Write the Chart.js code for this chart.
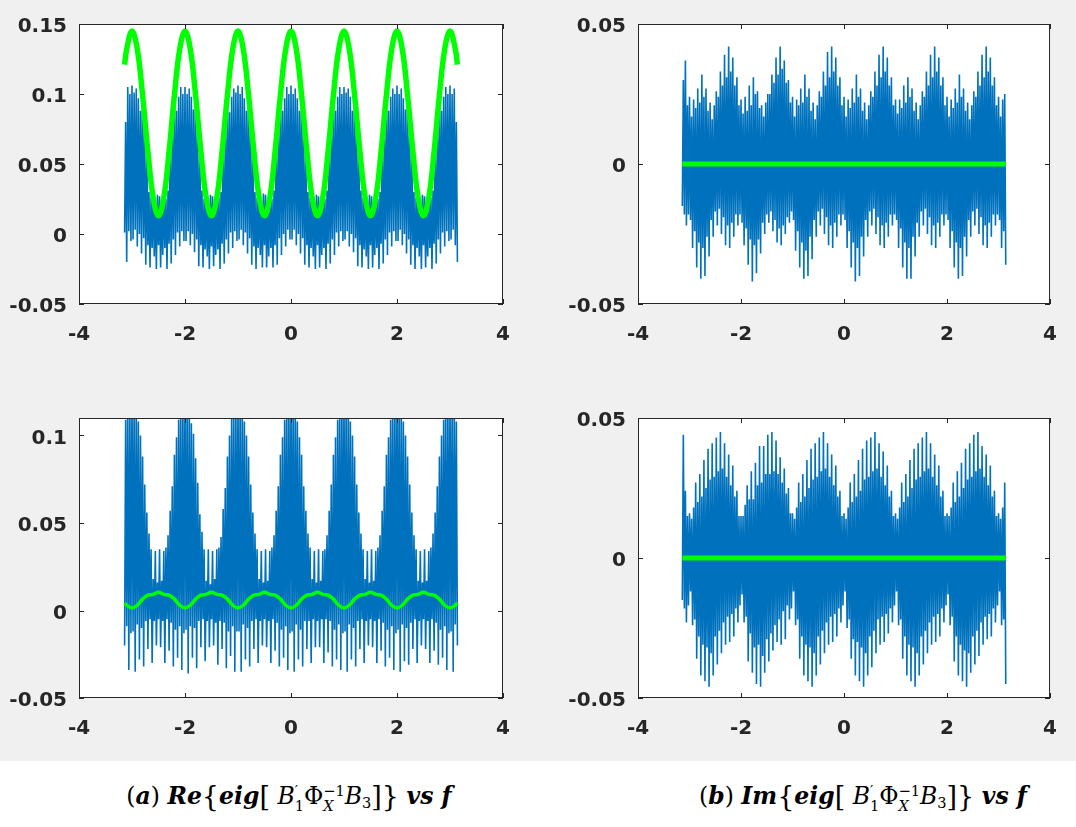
<!DOCTYPE html>
<html>
<head>
<meta charset="utf-8">
<script src="https://cdn.jsdelivr.net/npm/chart.js@4.4.1/dist/chart.umd.min.js"></script>
<style>
  html, body { margin: 0; padding: 0; background: #fff; }
  body { width: 1076px; height: 827px; position: relative; overflow: hidden; }
  #fig { position: absolute; left: 0; top: 0; width: 1076px; height: 761px; background: #f0f0f0; }
  canvas { position: absolute; }
  .cap {
    position: absolute; top: 780px; line-height: 32px; white-space: nowrap;
    font-family: "DejaVu Serif", serif; font-size: 23.5px; color: #000;
    transform: translateX(-50%);
  }
  .cap b { font-weight: bold; font-style: italic; }
  .cap i { font-style: italic; font-weight: normal; }
  .cap .br { font-size: 1.15em; vertical-align: -0.06em; font-weight: normal; }
  .cap .ss { display: inline-block; vertical-align: -0.45em; font-size: 0.62em; line-height: 1.0; text-align: left; }
  .cap .ss span { display: block; }
  .cap sub { font-size: 0.62em; vertical-align: -0.3em; line-height: 0; }
</style>
</head>
<body>
<div id="fig"></div>
<canvas id="reTop" width="540" height="370" style="left:0;top:0"></canvas>
<canvas id="imTop" width="516" height="370" style="left:560px;top:0"></canvas>
<canvas id="reBot" width="540" height="370" style="left:0;top:394px"></canvas>
<canvas id="imBot" width="516" height="370" style="left:560px;top:394px"></canvas>

<div class="cap" style="left:289px">(<b>a</b>) <b>Re</b><span class="br">{</span><b>eig</b><span class="br">[</span> <i>B</i><span class="ss"><span>′</span><span>1</span></span>Φ<span class="ss"><span>−1</span><span><i>X</i></span></span><i>B</i><sub>3</sub><span class="br">]</span><span class="br">}</span> <b>vs f</b></div>
<div class="cap" style="left:863px">(<b>b</b>) <b>Im</b><span class="br">{</span><b>eig</b><span class="br">[</span> <i>B</i><span class="ss"><span>′</span><span>1</span></span>Φ<span class="ss"><span>−1</span><span><i>X</i></span></span><i>B</i><sub>3</sub><span class="br">]</span><span class="br">}</span> <b>vs f</b></div>

<script>
// frequency grid of the blue traces (-pi .. pi, step 0.02)
const freq = [
  -3.14,-3.12,-3.10,-3.08,-3.06,-3.04,-3.02,-3.00,-2.98,-2.96,
  -2.94,-2.92,-2.90,-2.88,-2.86,-2.84,-2.82,-2.80,-2.78,-2.76,
  -2.74,-2.72,-2.70,-2.68,-2.66,-2.64,-2.62,-2.60,-2.58,-2.56,
  -2.54,-2.52,-2.50,-2.48,-2.46,-2.44,-2.42,-2.40,-2.38,-2.36,
  -2.34,-2.32,-2.30,-2.28,-2.26,-2.24,-2.22,-2.20,-2.18,-2.16,
  -2.14,-2.12,-2.10,-2.08,-2.06,-2.04,-2.02,-2.00,-1.98,-1.96,
  -1.94,-1.92,-1.90,-1.88,-1.86,-1.84,-1.82,-1.80,-1.78,-1.76,
  -1.74,-1.72,-1.70,-1.68,-1.66,-1.64,-1.62,-1.60,-1.58,-1.56,
  -1.54,-1.52,-1.50,-1.48,-1.46,-1.44,-1.42,-1.40,-1.38,-1.36,
  -1.34,-1.32,-1.30,-1.28,-1.26,-1.24,-1.22,-1.20,-1.18,-1.16,
  -1.14,-1.12,-1.10,-1.08,-1.06,-1.04,-1.02,-1.00,-0.98,-0.96,
  -0.94,-0.92,-0.90,-0.88,-0.86,-0.84,-0.82,-0.80,-0.78,-0.76,
  -0.74,-0.72,-0.70,-0.68,-0.66,-0.64,-0.62,-0.60,-0.58,-0.56,
  -0.54,-0.52,-0.50,-0.48,-0.46,-0.44,-0.42,-0.40,-0.38,-0.36,
  -0.34,-0.32,-0.30,-0.28,-0.26,-0.24,-0.22,-0.20,-0.18,-0.16,
  -0.14,-0.12,-0.10,-0.08,-0.06,-0.04,-0.02,0.00,0.02,0.04,
  0.06,0.08,0.10,0.12,0.14,0.16,0.18,0.20,0.22,0.24,
  0.26,0.28,0.30,0.32,0.34,0.36,0.38,0.40,0.42,0.44,
  0.46,0.48,0.50,0.52,0.54,0.56,0.58,0.60,0.62,0.64,
  0.66,0.68,0.70,0.72,0.74,0.76,0.78,0.80,0.82,0.84,
  0.86,0.88,0.90,0.92,0.94,0.96,0.98,1.00,1.02,1.04,
  1.06,1.08,1.10,1.12,1.14,1.16,1.18,1.20,1.22,1.24,
  1.26,1.28,1.30,1.32,1.34,1.36,1.38,1.40,1.42,1.44,
  1.46,1.48,1.50,1.52,1.54,1.56,1.58,1.60,1.62,1.64,
  1.66,1.68,1.70,1.72,1.74,1.76,1.78,1.80,1.82,1.84,
  1.86,1.88,1.90,1.92,1.94,1.96,1.98,2.00,2.02,2.04,
  2.06,2.08,2.10,2.12,2.14,2.16,2.18,2.20,2.22,2.24,
  2.26,2.28,2.30,2.32,2.34,2.36,2.38,2.40,2.42,2.44,
  2.46,2.48,2.50,2.52,2.54,2.56,2.58,2.60,2.62,2.64,
  2.66,2.68,2.70,2.72,2.74,2.76,2.78,2.80,2.82,2.84,
  2.86,2.88,2.90,2.92,2.94,2.96,2.98,3.00,3.02,3.04,
  3.06,3.08,3.10,3.12,3.14
];

// Re{eig} top panel, blue trace (one block per unit of f, starting at f = -3)
const reTopBlue = [
  0.001,0.080,-0.020,0.105,0.002,0.100,-0.005,
  0.106,-0.004,0.101,0.003,0.104,-0.009,0.097,0.000,0.088,-0.014,
  0.100,-0.003,0.071,-0.022,0.057,-0.008,0.030,-0.024,0.026,-0.010,
  0.030,-0.016,0.022,-0.025,0.028,-0.008,0.027,-0.024,0.023,-0.015,
  0.030,-0.010,0.025,-0.025,0.031,-0.007,0.058,-0.021,0.069,-0.004,
  0.099,-0.015,0.088,0.001,0.098,-0.009,0.105,0.002,0.100,-0.005,
  0.105,-0.005,0.100,0.002,0.104,-0.008,0.098,0.000,0.089,-0.013,
  0.100,-0.004,0.069,-0.023,0.056,-0.008,0.031,-0.024,0.025,-0.011,
  0.029,-0.016,0.023,-0.025,0.028,-0.009,0.027,-0.023,0.022,-0.015,
  0.030,-0.011,0.026,-0.025,0.030,-0.007,0.059,-0.021,0.068,-0.004,
  0.100,-0.014,0.087,0.001,0.098,-0.010,0.104,0.002,0.101,-0.005,
  0.106,-0.004,0.100,0.003,0.105,-0.008,0.097,0.001,0.088,-0.014,
  0.099,-0.003,0.070,-0.022,0.057,-0.009,0.030,-0.025,0.026,-0.010,
  0.030,-0.015,0.022,-0.024,0.029,-0.008,0.028,-0.024,0.023,-0.016,
  0.031,-0.010,0.025,-0.024,0.031,-0.008,0.058,-0.022,0.069,-0.003,
  0.099,-0.015,0.088,0.000,0.097,-0.009,0.105,0.003,0.100,-0.004,
  0.106,-0.004,0.100,0.003,0.104,-0.008,0.097,0.000,0.088,-0.014,
  0.100,-0.003,0.070,-0.022,0.057,-0.008,0.030,-0.024,0.026,-0.010,
  0.030,-0.016,0.022,-0.025,0.028,-0.008,0.027,-0.024,0.023,-0.015,
  0.030,-0.010,0.025,-0.025,0.031,-0.007,0.058,-0.021,0.069,-0.004,
  0.099,-0.015,0.088,0.001,0.098,-0.009,0.105,0.002,0.100,-0.005,
  0.105,-0.004,0.101,0.002,0.104,-0.009,0.098,0.000,0.088,-0.013,
  0.100,-0.003,0.071,-0.023,0.056,-0.008,0.031,-0.024,0.026,-0.011,
  0.030,-0.016,0.023,-0.025,0.028,-0.008,0.027,-0.024,0.022,-0.015,
  0.030,-0.010,0.025,-0.025,0.030,-0.007,0.058,-0.021,0.068,-0.004,
  0.100,-0.015,0.088,0.001,0.098,-0.009,0.104,0.002,0.100,-0.005,
  0.106,-0.005,0.100,0.003,0.104,-0.008,0.097,0.000,0.089,-0.014,
  0.100,-0.004,0.070,-0.022,0.057,-0.008,0.030,-0.025,0.026,-0.010,
  0.029,-0.016,0.022,-0.025,0.028,-0.008,0.027,-0.024,0.023,-0.016,
  0.030,-0.010,0.026,-0.025,0.031,-0.007,0.059,-0.021,0.069,-0.004,
  0.099,-0.014,0.088,0.001,0.098,-0.009,0.105,0.002,0.100,-0.005,
  0.106,-0.004,0.100,0.003,0.104,-0.008,0.080,-0.020
];

// Im{eig} top panel, blue trace
const imTopBlue = [
  -0.015,0.030,-0.018,0.037,-0.022,0.021,-0.018,
  0.024,-0.020,0.017,-0.030,0.023,-0.024,0.020,-0.037,0.027,-0.028,
  0.022,-0.041,0.032,-0.030,0.024,-0.040,0.027,-0.026,0.019,-0.033,
  0.022,-0.020,0.016,-0.026,0.021,-0.017,0.026,-0.022,0.024,-0.016,
  0.033,-0.025,0.028,-0.019,0.039,-0.029,0.031,-0.022,0.042,-0.030,
  0.033,-0.021,0.038,-0.026,0.028,-0.018,0.031,-0.022,0.021,-0.018,
  0.023,-0.021,0.018,-0.029,0.024,-0.023,0.019,-0.036,0.028,-0.027,
  0.021,-0.042,0.031,-0.029,0.025,-0.039,0.026,-0.027,0.020,-0.032,
  0.021,-0.021,0.017,-0.025,0.022,-0.018,0.025,-0.021,0.025,-0.017,
  0.032,-0.024,0.029,-0.020,0.038,-0.028,0.032,-0.023,0.042,-0.029,
  0.034,-0.022,0.037,-0.025,0.029,-0.019,0.030,-0.021,0.022,-0.017,
  0.024,-0.020,0.017,-0.031,0.023,-0.024,0.021,-0.037,0.027,-0.028,
  0.022,-0.041,0.032,-0.031,0.024,-0.040,0.027,-0.026,0.019,-0.034,
  0.022,-0.020,0.016,-0.026,0.021,-0.017,0.026,-0.022,0.024,-0.016,
  0.033,-0.025,0.028,-0.019,0.040,-0.029,0.031,-0.022,0.042,-0.030,
  0.033,-0.021,0.038,-0.026,0.028,-0.018,0.031,-0.022,0.021,-0.018,
  0.024,-0.020,0.017,-0.030,0.023,-0.024,0.020,-0.037,0.027,-0.028,
  0.022,-0.042,0.032,-0.030,0.024,-0.040,0.027,-0.026,0.019,-0.033,
  0.022,-0.020,0.016,-0.026,0.021,-0.017,0.026,-0.022,0.024,-0.016,
  0.033,-0.025,0.028,-0.019,0.039,-0.029,0.031,-0.022,0.042,-0.030,
  0.033,-0.021,0.038,-0.026,0.028,-0.018,0.031,-0.022,0.021,-0.018,
  0.023,-0.020,0.018,-0.030,0.023,-0.023,0.020,-0.037,0.028,-0.028,
  0.022,-0.041,0.031,-0.030,0.024,-0.041,0.027,-0.026,0.019,-0.033,
  0.022,-0.021,0.016,-0.026,0.021,-0.017,0.026,-0.022,0.024,-0.016,
  0.033,-0.025,0.028,-0.019,0.039,-0.029,0.031,-0.022,0.042,-0.030,
  0.033,-0.021,0.038,-0.026,0.028,-0.018,0.031,-0.022,0.021,-0.018,
  0.024,-0.020,0.017,-0.030,0.023,-0.024,0.020,-0.037,0.027,-0.028,
  0.022,-0.041,0.032,-0.030,0.024,-0.040,0.027,-0.026,0.019,-0.033,
  0.022,-0.020,0.016,-0.026,0.021,-0.017,0.026,-0.022,0.024,-0.016,
  0.033,-0.025,0.028,-0.019,0.039,-0.029,0.031,-0.022,0.042,-0.030,
  0.033,-0.021,0.038,-0.026,0.028,-0.018,0.031,-0.022,0.021,-0.018,
  0.024,-0.020,0.017,-0.030,0.023,-0.024,0.025,-0.036
];

// Re{eig} bottom panel, blue trace
const reBotBlue = [
  -0.020,0.109,-0.009,0.121,-0.034,0.119,-0.013,
  0.125,-0.012,0.118,-0.035,0.122,-0.008,0.108,-0.028,0.100,-0.010,
  0.088,-0.032,0.072,-0.006,0.056,-0.022,0.044,-0.005,0.035,-0.030,
  0.018,-0.006,0.034,-0.020,0.016,-0.005,0.035,-0.021,0.017,-0.006,
  0.034,-0.030,0.036,-0.005,0.043,-0.023,0.057,-0.007,0.071,-0.032,
  0.089,-0.011,0.099,-0.027,0.109,-0.009,0.121,-0.034,0.119,-0.013,
  0.125,-0.011,0.119,-0.036,0.122,-0.009,0.107,-0.027,0.101,-0.010,
  0.087,-0.033,0.073,-0.006,0.055,-0.021,0.045,-0.005,0.035,-0.029,
  0.017,-0.006,0.035,-0.021,0.015,-0.005,0.034,-0.020,0.018,-0.007,
  0.035,-0.031,0.036,-0.006,0.042,-0.022,0.058,-0.007,0.070,-0.033,
  0.088,-0.012,0.100,-0.026,0.110,-0.009,0.120,-0.035,0.118,-0.012,
  0.125,-0.012,0.118,-0.035,0.122,-0.008,0.108,-0.028,0.100,-0.010,
  0.088,-0.032,0.072,-0.006,0.056,-0.022,0.044,-0.005,0.035,-0.030,
  0.018,-0.006,0.034,-0.020,0.016,-0.005,0.035,-0.021,0.017,-0.006,
  0.034,-0.030,0.036,-0.005,0.043,-0.023,0.057,-0.007,0.071,-0.032,
  0.089,-0.011,0.099,-0.027,0.109,-0.009,0.121,-0.034,0.119,-0.013,
  0.125,-0.012,0.118,-0.035,0.123,-0.008,0.108,-0.028,0.099,-0.011,
  0.089,-0.032,0.071,-0.006,0.057,-0.022,0.044,-0.006,0.036,-0.030,
  0.018,-0.005,0.034,-0.021,0.016,-0.006,0.035,-0.021,0.017,-0.005,
  0.034,-0.030,0.035,-0.005,0.043,-0.024,0.057,-0.006,0.072,-0.032,
  0.089,-0.011,0.099,-0.028,0.109,-0.008,0.121,-0.034,0.120,-0.013,
  0.125,-0.012,0.118,-0.035,0.122,-0.008,0.108,-0.028,0.100,-0.010,
  0.088,-0.032,0.072,-0.006,0.056,-0.022,0.044,-0.005,0.035,-0.030,
  0.018,-0.006,0.034,-0.020,0.016,-0.005,0.035,-0.021,0.017,-0.006,
  0.034,-0.030,0.036,-0.005,0.043,-0.023,0.057,-0.007,0.071,-0.032,
  0.089,-0.011,0.099,-0.027,0.109,-0.009,0.121,-0.034,0.119,-0.013,
  0.125,-0.011,0.119,-0.035,0.121,-0.008,0.108,-0.029,0.100,-0.010,
  0.088,-0.031,0.072,-0.007,0.056,-0.022,0.043,-0.005,0.035,-0.030,
  0.017,-0.006,0.034,-0.020,0.016,-0.005,0.035,-0.022,0.017,-0.006,
  0.034,-0.030,0.036,-0.005,0.044,-0.023,0.056,-0.007,0.071,-0.031,
  0.088,-0.011,0.100,-0.027,0.109,-0.009,0.121,-0.034,0.119,-0.013,
  0.125,-0.012,0.118,-0.035,0.122,-0.008,0.108,-0.020
];

// Im{eig} bottom panel, blue trace
const imBotBlue = [
  -0.015,0.044,-0.018,0.024,-0.023,0.015,-0.017,
  0.016,-0.012,0.014,-0.024,0.018,-0.022,0.027,-0.036,0.020,-0.028,
  0.030,-0.042,0.022,-0.031,0.035,-0.044,0.025,-0.032,0.039,-0.046,
  0.028,-0.034,0.041,-0.042,0.029,-0.028,0.043,-0.038,0.031,-0.026,
  0.045,-0.034,0.032,-0.023,0.041,-0.031,0.029,-0.021,0.037,-0.030,
  0.026,-0.020,0.033,-0.028,0.022,-0.018,0.024,-0.023,0.015,-0.017,
  0.015,-0.013,0.015,-0.023,0.019,-0.021,0.026,-0.037,0.021,-0.027,
  0.031,-0.041,0.021,-0.032,0.034,-0.045,0.026,-0.031,0.040,-0.046,
  0.027,-0.035,0.040,-0.041,0.030,-0.029,0.044,-0.037,0.030,-0.027,
  0.045,-0.033,0.031,-0.024,0.042,-0.030,0.030,-0.022,0.036,-0.031,
  0.027,-0.019,0.032,-0.029,0.023,-0.017,0.025,-0.022,0.016,-0.018,
  0.016,-0.012,0.014,-0.024,0.018,-0.022,0.027,-0.036,0.020,-0.028,
  0.030,-0.042,0.022,-0.031,0.035,-0.044,0.025,-0.032,0.039,-0.046,
  0.028,-0.034,0.041,-0.042,0.029,-0.028,0.043,-0.038,0.031,-0.026,
  0.045,-0.034,0.032,-0.023,0.041,-0.031,0.029,-0.021,0.037,-0.030,
  0.026,-0.020,0.033,-0.028,0.022,-0.018,0.024,-0.023,0.015,-0.017,
  0.016,-0.012,0.014,-0.025,0.018,-0.022,0.027,-0.036,0.020,-0.029,
  0.030,-0.042,0.022,-0.030,0.035,-0.044,0.024,-0.032,0.039,-0.046,
  0.028,-0.034,0.042,-0.042,0.029,-0.028,0.043,-0.039,0.031,-0.026,
  0.045,-0.034,0.032,-0.022,0.041,-0.031,0.029,-0.021,0.038,-0.030,
  0.026,-0.020,0.033,-0.027,0.022,-0.018,0.024,-0.023,0.015,-0.017,
  0.016,-0.012,0.014,-0.024,0.018,-0.022,0.027,-0.036,0.020,-0.028,
  0.030,-0.042,0.022,-0.031,0.035,-0.044,0.025,-0.032,0.039,-0.046,
  0.028,-0.034,0.041,-0.042,0.029,-0.028,0.043,-0.038,0.031,-0.026,
  0.045,-0.034,0.032,-0.023,0.041,-0.031,0.029,-0.021,0.037,-0.030,
  0.026,-0.020,0.033,-0.028,0.022,-0.018,0.024,-0.023,0.015,-0.017,
  0.016,-0.013,0.015,-0.024,0.018,-0.021,0.027,-0.037,0.020,-0.028,
  0.031,-0.042,0.022,-0.031,0.034,-0.044,0.025,-0.033,0.039,-0.046,
  0.028,-0.034,0.041,-0.041,0.029,-0.028,0.044,-0.038,0.031,-0.026,
  0.045,-0.035,0.032,-0.023,0.040,-0.031,0.029,-0.021,0.037,-0.029,
  0.026,-0.020,0.033,-0.028,0.022,-0.018,0.024,-0.023,0.015,-0.017,
  0.016,-0.012,0.014,-0.024,0.018,-0.022,0.027,-0.045
];

// grid of the green (smooth) curves
const greenX = [
  -3.14,-3.1,
  -3.0,-2.9,-2.8,-2.7,-2.6,-2.5,-2.4,-2.3,-2.2,-2.1,
  -2.0,-1.9,-1.8,-1.7,-1.6,-1.5,-1.4,-1.3,-1.2,-1.1,
  -1.0,-0.9,-0.8,-0.7,-0.6,-0.5,-0.4,-0.3,-0.2,-0.1,
  0.0,0.1,0.2,0.3,0.4,0.5,0.6,0.7,0.8,0.9,
  1.0,1.1,1.2,1.3,1.4,1.5,1.6,1.7,1.8,1.9,
  2.0,2.1,2.2,2.3,2.4,2.5,2.6,2.7,2.8,2.9,
  3.0,3.1,3.14
];
const reTopGreen = [
  0.121,0.132,
  0.145,0.132,0.099,0.059,0.026,0.013,0.026,0.059,0.099,0.132,
  0.145,0.132,0.099,0.059,0.026,0.013,0.026,0.059,0.099,0.132,
  0.145,0.132,0.099,0.059,0.026,0.013,0.026,0.059,0.099,0.132,
  0.145,0.132,0.099,0.059,0.026,0.013,0.026,0.059,0.099,0.132,
  0.145,0.132,0.099,0.059,0.026,0.013,0.026,0.059,0.099,0.132,
  0.145,0.132,0.099,0.059,0.026,0.013,0.026,0.059,0.099,0.132,
  0.145,0.132,0.121
];
const reBotGreen = [
  0.0043,0.003,
  0.0015,0.003,0.0065,0.0088,0.0092,0.0105,0.0092,0.0088,0.0065,0.003,
  0.0015,0.003,0.0065,0.0088,0.0092,0.0105,0.0092,0.0088,0.0065,0.003,
  0.0015,0.003,0.0065,0.0088,0.0092,0.0105,0.0092,0.0088,0.0065,0.003,
  0.0015,0.003,0.0065,0.0088,0.0092,0.0105,0.0092,0.0088,0.0065,0.003,
  0.0015,0.003,0.0065,0.0088,0.0092,0.0105,0.0092,0.0088,0.0065,0.003,
  0.0015,0.003,0.0065,0.0088,0.0092,0.0105,0.0092,0.0088,0.0065,0.003,
  0.0015,0.003,0.0043
];
const imGreenX = [-3.14, 3.14];
const imGreen = [0, 0];

// axes
const xTicks = [-4, -2, 0, 2, 4];
const xTickLabels = ['-4', '-2', '0', '2', '4'];
const reTopYTicks = [-0.05, 0, 0.05, 0.1, 0.15];
const reTopYLabels = ['-0.05', '0', '0.05', '0.1', '0.15'];
const reBotYTicks = [-0.05, 0, 0.05, 0.1];
const reBotYLabels = ['-0.05', '0', '0.05', '0.1'];
const imYTicks = [-0.05, 0, 0.05];
const imYLabels = ['-0.05', '0', '0.05'];

const AXIS_COLOR = '#262626';
const tickFont = { family: 'DejaVu Sans', weight: 'bold', size: 20 };

// white plot area, box and inward ticks like MATLAB
const matlabAxes = {
  id: 'matlabAxes',
  beforeDatasetsDraw(chart) {
    const { ctx, chartArea: a } = chart;
    ctx.save();
    ctx.fillStyle = '#ffffff';
    ctx.fillRect(a.left, a.top, a.right - a.left, a.bottom - a.top);
    ctx.restore();
  },
  afterDatasetsDraw(chart, args, opts) {
    const { ctx, chartArea: a, scales } = chart;
    const len = 5;
    ctx.save();
    ctx.strokeStyle = AXIS_COLOR;
    ctx.lineWidth = 1;
    ctx.beginPath();
    opts.xTicks.forEach(v => {
      const px = Math.round(scales.x.getPixelForValue(v)) + 0.5;
      ctx.moveTo(px, a.bottom); ctx.lineTo(px, a.bottom - len);
      ctx.moveTo(px, a.top); ctx.lineTo(px, a.top + len);
    });
    opts.yTicks.forEach(v => {
      const py = Math.round(scales.y.getPixelForValue(v)) + 0.5;
      ctx.moveTo(a.left, py); ctx.lineTo(a.left + len, py);
      ctx.moveTo(a.right, py); ctx.lineTo(a.right - len, py);
    });
    ctx.stroke();
    ctx.strokeRect(a.left + 0.5, a.top + 0.5, a.right - a.left - 1, a.bottom - a.top - 1);
    ctx.restore();
  }
};

function makePanel(id, p) {
  const canvas = document.getElementById(id);
  const W = canvas.width, H = canvas.height;
  return new Chart(canvas, {
    type: 'line',
    data: {
      datasets: [
        {
          data: p.greenX.map((x, i) => ({ x, y: p.green[i] })),
          borderColor: '#00ff00',
          borderWidth: p.greenWidth,
          pointRadius: 0,
          tension: 0.4,
          clip: 0
        },
        {
          data: freq.map((x, i) => ({ x, y: p.blue[i] })),
          borderColor: '#0072bd',
          borderWidth: 1.6,
          borderJoinStyle: 'bevel',
          pointRadius: 0,
          tension: 0,
          clip: 0
        }
      ]
    },
    options: {
      responsive: false,
      animation: false,
      events: [],
      layout: { padding: { top: p.box.top, right: W - p.box.right, left: 0, bottom: 0 } },
      plugins: {
        legend: { display: false },
        tooltip: { enabled: false },
        matlabAxes: { xTicks, yTicks: p.yTicks }
      },
      scales: {
        x: {
          type: 'linear', min: -4, max: 4,
          afterBuildTicks: s => { s.ticks = xTicks.map(v => ({ value: v })); },
          afterFit: s => { s.height = H - p.box.bottom; },
          grid: { display: false, drawTicks: false, tickLength: 0 },
          border: { display: false },
          ticks: {
            autoSkip: false, maxRotation: 0, padding: 19,
            color: AXIS_COLOR, font: tickFont,
            callback: (v, i) => xTickLabels[i]
          }
        },
        y: {
          type: 'linear', min: p.yMin, max: p.yMax,
          afterBuildTicks: s => { s.ticks = p.yTicks.map(v => ({ value: v })); },
          afterFit: s => { s.width = p.box.left; },
          grid: { display: false, drawTicks: false, tickLength: 0 },
          border: { display: false },
          ticks: {
            autoSkip: false, padding: 12, labelOffset: 3,
            color: AXIS_COLOR, font: tickFont,
            callback: (v, i) => p.yLabels[i]
          }
        }
      }
    },
    plugins: [matlabAxes]
  });
}

makePanel('reTop', {
  blue: reTopBlue, greenX, green: reTopGreen, greenWidth: 5.5,
  yMin: -0.05, yMax: 0.15, yTicks: reTopYTicks, yLabels: reTopYLabels,
  box: { left: 79, right: 503, top: 20, bottom: 304 }
});
makePanel('imTop', {
  blue: imTopBlue, greenX: imGreenX, green: imGreen, greenWidth: 5,
  yMin: -0.05, yMax: 0.05, yTicks: imYTicks, yLabels: imYLabels,
  box: { left: 78, right: 500, top: 20, bottom: 304 }
});
makePanel('reBot', {
  blue: reBotBlue, greenX, green: reBotGreen, greenWidth: 3.5,
  yMin: -0.05, yMax: 0.11, yTicks: reBotYTicks, yLabels: reBotYLabels,
  box: { left: 79, right: 503, top: 20, bottom: 304 }
});
makePanel('imBot', {
  blue: imBotBlue, greenX: imGreenX, green: imGreen, greenWidth: 5,
  yMin: -0.05, yMax: 0.05, yTicks: imYTicks, yLabels: imYLabels,
  box: { left: 78, right: 500, top: 20, bottom: 304 }
});
</script>
</body>
</html>
